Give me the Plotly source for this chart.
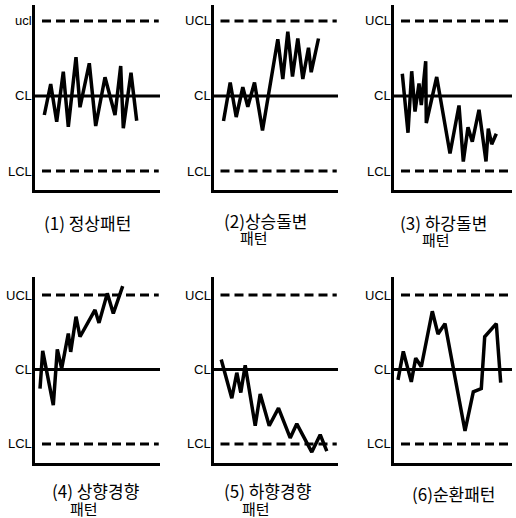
import plotly.graph_objects as go

# ---------------- data ----------------
limit_values = [3, 0, -3]          # UCL, CL, LCL
limit_labels = [
    ["ucl", "CL", "LCL"],
    ["UCL", "CL", "LCL"],
    ["UCL", "CL", "LCL"],
    ["UCL", "CL", "LCL"],
    ["UCL", "CL", "LCL"],
    ["UCL", "CL", "LCL"],
]
captions_line1 = ["(1) 정상패턴", "(2)상승돌변", "(3) 하강돌변", "(4) 상향경향", "(5) 하향경향", "(6)순환패턴"]
captions_line2 = ["", "패턴", "패턴", "패턴", "패턴", ""]

# (1) normal pattern
p1_x = [9.3, 15.7, 21.7, 28.3, 33.3, 41, 45, 54.3, 60.7, 70, 80, 85.7, 88.3, 96, 101.7]
p1_y = [-0.76, 0.48, -1.03, 0.97, -1.23, 1.55, -0.45, 1.31, -1.2, 0.75, -0.76, 1.2, -1.29, 0.93, -0.99]

# (2) sudden upward shift
p2_x = [10, 16.7, 22.7, 29.3, 34.3, 41, 49, 64.3, 69.3, 74.3, 79, 84.3, 89.3, 95, 97.7, 105]
p2_y = [-1.0, 0.54, -0.84, 0.35, -0.43, 0.54, -1.38, 2.27, 0.68, 2.57, 0.78, 2.3, 0.68, 1.93, 0.95, 2.3]

# (3) sudden downward shift
p3_x = [8.3, 14, 17.7, 21, 25, 27.3, 31.7, 32.3, 42.7, 56, 65, 69.3, 74, 78.3, 85, 92, 94.3, 97.7, 102.3]
p3_y = [0.89, -1.47, 0.99, -0.62, 0.5, -0.36, 1.39, -1.08, 0.76, -2.3, -0.38, -2.62, -1.25, -1.83, -0.55, -2.62, -1.3, -1.93, -1.51]

# (4) upward trend
p4_x = [5, 7.7, 18.3, 22.3, 26.7, 33.3, 35.7, 41, 45, 60, 64, 72.3, 78.3, 87.7]
p4_y = [-0.77, 0.75, -1.44, 0.81, 0.04, 1.45, 0.71, 2.13, 1.32, 2.4, 1.88, 3.07, 2.26, 3.36]

# (5) downward trend
p5_x = [7.7, 18.3, 23.3, 27.3, 31.7, 41.7, 46.7, 55.7, 65, 76.7, 83.3, 98.3, 106.7, 113.3]
p5_y = [0.4, -1.16, -0.13, -0.93, 0.17, -2.27, -0.99, -2.27, -1.56, -2.76, -2.19, -3.33, -2.63, -3.29]

# (6) cyclic pattern
p6_x = [4, 9.3, 17.3, 21.7, 27.3, 38.3, 44, 51, 71, 79.3, 87.3, 90.7, 102.3, 106.7]
p6_y = [-0.42, 0.73, -0.5, 0.46, 0.11, 2.35, 1.43, 1.85, -2.48, -0.9, -0.77, 1.32, 1.85, -0.53]

series_x = [p1_x, p2_x, p3_x, p4_x, p5_x, p6_x]
series_y = [p1_y, p2_y, p3_y, p4_y, p5_y, p6_y]

# ---------------- layout geometry (pixels) ----------------
W, H = 516, 518
col_left = [35, 213.5, 394]
col_right = [160, 338, 512]
row_top = [5, 277]
row_bottom = [190, 463]
row_cl = [96, 369.5]
row_unit = [25, 24.8]

cap1_pos = [(87, 223), (266, 221), (443, 222), (95, 490), (267, 490), (454, 493)]
cap2_pos = [None, (254, 238), (436, 240), (84, 508), (256, 508), None]

fig = go.Figure()
shapes = []
annotations = []
LBL_FONT = dict(family="Liberation Sans, Arial", size=13, color="black")
CAP_FONT = dict(family="Noto Sans CJK KR", size=17, color="black")
CAP2_FONT = dict(family="Noto Sans CJK KR", size=15, color="black")

for i in range(6):
    r, c = divmod(i, 3)
    n = "" if i == 0 else str(i + 1)
    left, right = col_left[c], col_right[c]
    top, bottom = row_top[r], row_bottom[r]
    cl, unit = row_cl[r], row_unit[r]
    width = right - left
    xdom = [left / W, right / W]
    ydom = [1 - bottom / H, 1 - top / H]
    yr = [(cl - bottom) / unit, (cl - top) / unit]

    axis_common = dict(showgrid=False, zeroline=False, showticklabels=False,
                       ticks="", showline=True, linecolor="black", linewidth=3,
                       fixedrange=True)
    fig.layout["xaxis" + n] = dict(domain=xdom, range=[0, width], anchor="y" + n, **axis_common)
    fig.layout["yaxis" + n] = dict(domain=ydom, range=yr, anchor="x" + n, **axis_common)

    # control limit lines
    for k, v in enumerate(limit_values):
        if v == 0:
            shapes.append(dict(type="line", xref="x" + n + " domain", yref="y" + n,
                               x0=0, x1=1, y0=v, y1=v,
                               line=dict(color="black", width=3)))
        else:
            shapes.append(dict(type="line", xref="x" + n + " domain", yref="y" + n,
                               x0=7 / width, x1=0.99, y0=v, y1=v,
                               line=dict(color="black", width=3, dash="9px,5px")))
        annotations.append(dict(xref="paper", yref="y" + n, x=(left - 1) / W, y=v,
                                text=limit_labels[i][k], showarrow=False,
                                xanchor="right", yanchor="middle", font=LBL_FONT))

    fig.add_trace(go.Scatter(x=series_x[i], y=series_y[i], mode="lines",
                             line=dict(color="black", width=3.5),
                             xaxis="x" + n, yaxis="y" + n, hoverinfo="skip"))

    px, py = cap1_pos[i]
    annotations.append(dict(xref="paper", yref="paper", x=px / W, y=1 - py / H,
                            text=captions_line1[i], showarrow=False,
                            xanchor="center", yanchor="middle", font=CAP_FONT))
    if captions_line2[i]:
        px, py = cap2_pos[i]
        annotations.append(dict(xref="paper", yref="paper", x=px / W, y=1 - py / H,
                                text=captions_line2[i], showarrow=False,
                                xanchor="center", yanchor="middle", font=CAP2_FONT))

fig.update_layout(width=W, height=H, margin=dict(l=0, r=0, t=0, b=0),
                  paper_bgcolor="white", plot_bgcolor="white",
                  showlegend=False, shapes=shapes, annotations=annotations)

fig.write_html("out.html", config={"displayModeBar": False},
               post_script="document.body.style.margin='0px';")
